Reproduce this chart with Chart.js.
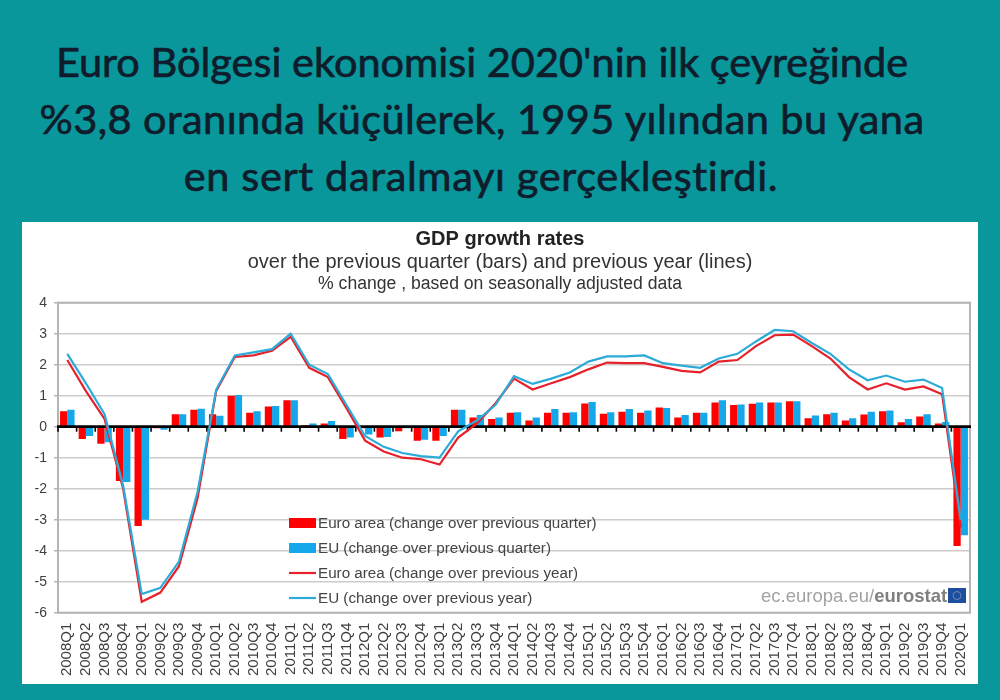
<!DOCTYPE html>
<html lang="tr">
<head>
<meta charset="utf-8">
<title>GDP growth rates</title>
<script src="https://cdn.jsdelivr.net/npm/chart.js@4"></script>
<style>
html,body{margin:0;padding:0;width:1000px;height:700px;overflow:hidden;background:#0a979c}
.headline{position:absolute;left:0;width:1000px;text-align:center;margin:0;color:#0e1c2b;
  font-family:"Lato",sans-serif;font-weight:400;-webkit-text-stroke:0.7px #0e1c2b;font-size:41.5px;line-height:44px;white-space:nowrap}
#panel{position:absolute;left:22px;top:222px;width:956px;height:462px;background:#fff}
canvas{display:block}
</style>
</head>
<body>
<h1 class="headline" id="l1" style="top:39px;left:-18px">Euro Bölgesi ekonomisi 2020'nin ilk çeyreğinde</h1>
<p class="headline" id="l2" style="top:96px;left:-18px;letter-spacing:0.4px">%3,8 oranında küçülerek, 1995 yılından bu yana</p>
<p class="headline" id="l3" style="top:153px;left:-19px;letter-spacing:0.65px">en sert daralmayı gerçekleştirdi.</p>
<div id="panel"><canvas id="c" width="956" height="462"></canvas></div>
<script>
const categories = ["2008Q1","2008Q2","2008Q3","2008Q4","2009Q1","2009Q2","2009Q3","2009Q4","2010Q1","2010Q2","2010Q3","2010Q4","2011Q1","2011Q2","2011Q3","2011Q4","2012Q1","2012Q2","2012Q3","2012Q4","2013Q1","2013Q2","2013Q3","2013Q4","2014Q1","2014Q2","2014Q3","2014Q4","2015Q1","2015Q2","2015Q3","2015Q4","2016Q1","2016Q2","2016Q3","2016Q4","2017Q1","2017Q2","2017Q3","2017Q4","2018Q1","2018Q2","2018Q3","2018Q4","2019Q1","2019Q2","2019Q3","2019Q4","2020Q1"];
const euroQuarter = [0.5,-0.4,-0.55,-1.75,-3.2,-0.05,0.4,0.55,0.4,1.0,0.45,0.65,0.85,0.05,0.1,-0.4,-0.05,-0.35,-0.15,-0.45,-0.45,0.55,0.3,0.25,0.45,0.2,0.45,0.45,0.75,0.42,0.48,0.45,0.62,0.3,0.45,0.78,0.7,0.74,0.78,0.82,0.27,0.4,0.2,0.39,0.5,0.14,0.33,0.1,-3.85];
const euQuarter = [0.55,-0.3,-0.5,-1.78,-3.0,-0.1,0.4,0.58,0.35,1.02,0.5,0.67,0.85,0.1,0.18,-0.35,-0.25,-0.33,-0.05,-0.42,-0.3,0.55,0.38,0.3,0.47,0.3,0.57,0.47,0.8,0.47,0.57,0.52,0.6,0.38,0.45,0.85,0.72,0.78,0.78,0.82,0.36,0.45,0.27,0.48,0.52,0.25,0.4,0.15,-3.5];
const euroYear = [2.15,1.15,0.25,-2.0,-5.65,-5.35,-4.5,-2.3,1.15,2.25,2.3,2.45,2.9,1.9,1.6,0.6,-0.45,-0.8,-1.0,-1.05,-1.22,-0.35,0.1,0.75,1.55,1.2,1.4,1.6,1.85,2.07,2.05,2.05,1.93,1.8,1.75,2.1,2.15,2.6,2.95,2.97,2.6,2.2,1.6,1.2,1.4,1.2,1.3,1.05,-3.25];
const euYear = [2.35,1.4,0.4,-1.9,-5.4,-5.2,-4.35,-2.1,1.2,2.3,2.4,2.5,3.0,2.0,1.7,0.7,-0.3,-0.65,-0.85,-0.95,-1.0,-0.15,0.2,0.7,1.63,1.38,1.55,1.75,2.1,2.27,2.27,2.3,2.05,1.97,1.9,2.2,2.35,2.75,3.12,3.08,2.7,2.35,1.85,1.5,1.65,1.45,1.52,1.25,-3.0];
const yTicks = [4,3,2,1,0,-1,-2,-3,-4,-5,-6];
const chartTitle = "GDP growth rates";
const chartSubtitle = "over the previous quarter (bars) and previous year (lines)";
const chartNote = "% change , based on seasonally adjusted data";
const seriesNames = ["Euro area (change over previous quarter)","EU (change over previous quarter)","Euro area (change over previous year)","EU (change over previous year)"];
const RED="#fe0000", BLUE="#14a7e9", LRED="#e6212b", LBLUE="#2cabd8", FRAME="#b4b4b4", TEXT="#3f3f3f";

const overlay = {
  id:"overlay",
  beforeDatasetsDraw(chart){
    const {ctx,chartArea:a}=chart;
    ctx.save();
    ctx.strokeStyle=FRAME; ctx.lineWidth=2;
    ctx.strokeRect(a.left,a.top,a.right-a.left,a.bottom-a.top);
    ctx.restore();
  },
  beforeDatasetDraw(chart,args){
    if(args.index!==2) return;
    const {ctx,chartArea:a,scales:{x,y}}=chart;
    const y0=y.getPixelForValue(0), half=(x.getPixelForValue(1)-x.getPixelForValue(0))/2;
    ctx.save();
    ctx.strokeStyle="#000";
    ctx.lineWidth=1.6;
    categories.forEach((c,i)=>{
      const px=x.getPixelForValue(i)-half;
      ctx.beginPath();ctx.moveTo(px,y0);ctx.lineTo(px,y0+5);ctx.stroke();
    });
    ctx.lineWidth=2.8;
    ctx.beginPath();ctx.moveTo(a.left-1,y0);ctx.lineTo(a.right+1,y0);ctx.stroke();
    ctx.restore();
  },
  afterDraw(chart){
    const {ctx}=chart;
    ctx.save();
    ctx.textBaseline="middle";
    ctx.textAlign="center";
    ctx.fillStyle="#333";
    ctx.font='17.6px "Liberation Sans"';
    ctx.fillText(chartNote,478,62);
    // legend
    const bx=267, tx=296, ys=[301,326,351,376];
    ctx.textAlign="left";
    ctx.font='15.2px "Liberation Sans"';
    seriesNames.forEach((n,i)=>{
      if(i<2){ ctx.fillStyle=i?BLUE:RED; ctx.fillRect(bx,ys[i]-5,27,10); }
      else { ctx.strokeStyle=i===2?LRED:LBLUE; ctx.lineWidth=2.2;
        ctx.beginPath();ctx.moveTo(bx,ys[i]);ctx.lineTo(bx+27,ys[i]);ctx.stroke(); }
      ctx.fillStyle="#444";
      ctx.fillText(n,tx,ys[i]+1);
    });
    // source mark
    ctx.font='18.5px "Liberation Sans"';
    ctx.fillStyle="#a3a3a3";
    const t1="ec.europa.eu/";
    ctx.fillText(t1,739,374.5);
    const w=ctx.measureText(t1).width;
    ctx.font='bold 18.5px "Liberation Sans"';
    ctx.fillStyle="#808080";
    ctx.fillText("eurostat",739+w,374.5);
    ctx.fillStyle="#1c4f9e";
    ctx.fillRect(926,366,18,15);
    ctx.strokeStyle="#6f87b5"; ctx.lineWidth=1;
    ctx.beginPath();ctx.arc(935,373.5,4,0,Math.PI*2);ctx.stroke();
    ctx.restore();
  }
};

new Chart(document.getElementById("c"),{
  data:{
    labels:categories,
    datasets:[
      {type:"bar",label:seriesNames[0],data:euroQuarter,backgroundColor:RED,order:3,barPercentage:1,categoryPercentage:0.78},
      {type:"bar",label:seriesNames[1],data:euQuarter,backgroundColor:BLUE,order:3,barPercentage:1,categoryPercentage:0.78},
      {type:"line",label:seriesNames[2],data:euroYear,borderColor:LRED,borderWidth:2.2,pointRadius:0,tension:0,order:2},
      {type:"line",label:seriesNames[3],data:euYear,borderColor:LBLUE,borderWidth:2.2,pointRadius:0,tension:0,order:1}
    ]
  },
  options:{
    responsive:false,
    animation:false,
    devicePixelRatio:1,
    layout:{padding:0},
    plugins:{
      legend:{display:false},
      tooltip:{enabled:false},
      title:{display:true,text:chartTitle,color:"#222",font:{family:'"Liberation Sans"',size:20,weight:"bold",lineHeight:1},padding:{top:7,bottom:0}},
      subtitle:{display:true,text:chartSubtitle,color:"#333",font:{family:'"Liberation Sans"',size:20},padding:{top:1,bottom:28.7}}
    },
    scales:{
      x:{
        type:"category",
        grid:{display:false},
        border:{display:false},
        afterFit(s){s.height=71.3;s.paddingLeft=0;s.paddingRight=8;},
        ticks:{autoSkip:false,minRotation:90,maxRotation:90,color:TEXT,padding:2,font:{family:'"Liberation Sans"',size:15}}
      },
      y:{
        min:-6,max:4,
        afterFit(s){s.width=36;},
        afterBuildTicks(s){s.ticks=yTicks.map(v=>({value:v}));},
        border:{display:false},
        grid:{color:c=>(c.tick&&c.tick.value===0)?"transparent":"#cccccc",lineWidth:1.5,tickLength:4,tickColor:FRAME},
        ticks:{color:TEXT,padding:7,font:{family:'"Liberation Sans"',size:14}}
      }
    }
  },
  plugins:[overlay]
});
</script>
</body>
</html>
